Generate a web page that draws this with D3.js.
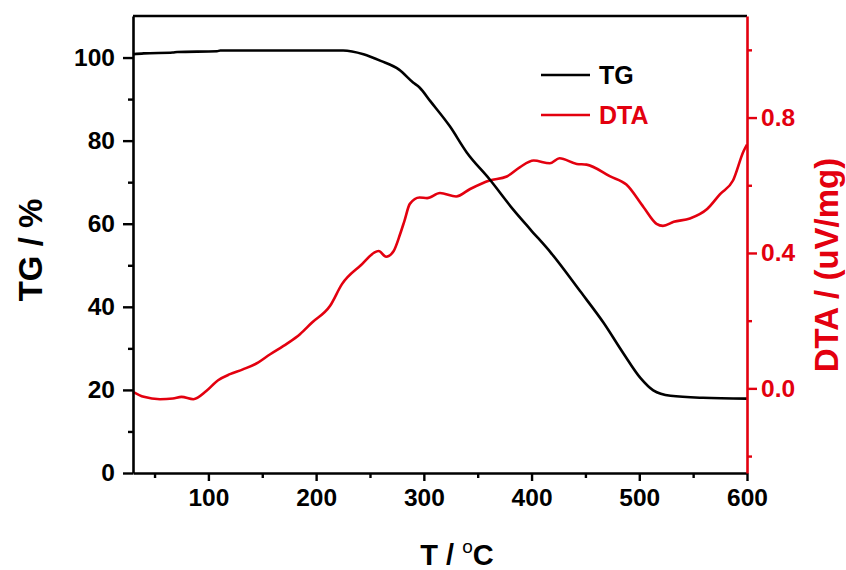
<!DOCTYPE html>
<html>
<head>
<meta charset="utf-8">
<script src="https://cdn.jsdelivr.net/npm/d3@7"></script>
<style>
  body { margin: 0; background: #fff; }
  text { font-family: "Liberation Sans", Arial, sans-serif; font-weight: bold; }
</style>
</head>
<body>
<script>
const width = 846;
const height = 570;
const margin = { top: 16, right: 99, bottom: 97, left: 133 };
const red = "#e3000f";

// TG curve (T in °C, mass %)
const tgT = [30, 40, 67, 71, 108, 111, 225, 244, 260, 277, 290, 296, 306, 324, 340, 361, 383, 399, 418, 445, 467, 485, 501, 513, 529, 559, 600];
const tgV = [100.8, 101.0, 101.2, 101.35, 101.5, 101.7, 101.7, 100.8, 99.2, 97.1, 94.0, 92.8, 89.5, 83.5, 77.1, 70.7, 63.4, 58.6, 53.0, 43.8, 36.1, 28.9, 22.9, 19.9, 18.6, 18.1, 17.9];

// DTA curve (T in °C, uV/mg)
const dtaT = [30, 40, 55, 67, 75, 86, 98, 109, 120, 132, 146, 157, 173, 185, 196, 213, 224, 241, 258, 265, 272, 278, 282, 287, 296, 303, 315, 330, 343, 361, 377, 389, 402, 417, 426, 442, 451, 473, 488, 504, 516, 522, 532, 547, 563, 575, 587, 597, 600];
const dtaV = [-0.01, -0.025, -0.032, -0.03, -0.025, -0.032, -0.008, 0.024, 0.042, 0.056, 0.076, 0.10, 0.132, 0.16, 0.194, 0.244, 0.308, 0.362, 0.406, 0.389, 0.406, 0.456, 0.495, 0.545, 0.564, 0.562, 0.577, 0.567, 0.589, 0.614, 0.626, 0.653, 0.673, 0.665, 0.68, 0.663, 0.661, 0.626, 0.602, 0.535, 0.486, 0.48, 0.492, 0.502, 0.53, 0.574, 0.614, 0.702, 0.72];

const xTicks = [100, 200, 300, 400, 500, 600];
const xMinor = [50, 150, 250, 350, 450, 550];
const tgTicks = [0, 20, 40, 60, 80, 100];
const tgMinor = [10, 30, 50, 70, 90];
const dtaTicks = [0.0, 0.4, 0.8];
const dtaMinor = [-0.2, 0.2, 0.6, 1.0];

const legendNames = ["TG", "DTA"];

const x = d3.scaleLinear().domain([30, 600]).range([margin.left, width - margin.right]);
const yTG = d3.scaleLinear().domain([0, 110]).range([height - margin.bottom, margin.top]);
const yDTA = d3.scaleLinear().domain([-0.25, 1.1]).range([height - margin.bottom, margin.top]);

const svg = d3.select("body").append("svg").attr("width", width).attr("height", height);

const plotBottom = height - margin.bottom;
const plotRight = width - margin.right;

// curves
const tgData = tgT.map((t, i) => [t, tgV[i]]);
const dtaData = dtaT.map((t, i) => [t, dtaV[i]]);

svg.append("path")
  .datum(dtaData)
  .attr("fill", "none")
  .attr("stroke", red)
  .attr("stroke-width", 2.6)
  .attr("d", d3.line().x(d => x(d[0])).y(d => yDTA(d[1])).curve(d3.curveMonotoneX));

svg.append("path")
  .datum(tgData)
  .attr("fill", "none")
  .attr("stroke", "#000")
  .attr("stroke-width", 2.6)
  .attr("d", d3.line().x(d => x(d[0])).y(d => yTG(d[1])).curve(d3.curveMonotoneX));

// axes
function styleAxis(g, color) {
  g.select(".domain").attr("stroke", color).attr("stroke-width", 2.6);
  g.selectAll(".tick line").attr("stroke", color).attr("stroke-width", 2.4);
  g.selectAll(".tick text").attr("fill", color).style("font-size", "24.5px")
    .style("font-family", "'Liberation Sans', Arial, sans-serif").style("font-weight", "bold");
}

// top border
svg.append("line")
  .attr("x1", margin.left).attr("x2", plotRight)
  .attr("y1", margin.top).attr("y2", margin.top)
  .attr("stroke", "#000").attr("stroke-width", 2.6);

// bottom axis
svg.append("g")
  .attr("transform", `translate(0,${plotBottom})`)
  .call(d3.axisBottom(x).tickValues(xMinor).tickSize(5).tickFormat(""))
  .call(g => styleAxis(g, "#000"))
  .call(g => g.select(".domain").remove());
svg.append("g")
  .attr("transform", `translate(0,${plotBottom})`)
  .call(d3.axisBottom(x).tickValues(xTicks).tickSize(8).tickSizeOuter(0).tickPadding(8).tickFormat(d3.format("d")))
  .call(g => styleAxis(g, "#000"));

// left axis
svg.append("g")
  .attr("transform", `translate(${margin.left},0)`)
  .call(d3.axisLeft(yTG).tickValues(tgMinor).tickSize(5).tickFormat(""))
  .call(g => styleAxis(g, "#000"))
  .call(g => g.select(".domain").remove());
svg.append("g")
  .attr("transform", `translate(${margin.left},0)`)
  .call(d3.axisLeft(yTG).tickValues(tgTicks).tickSize(10).tickSizeOuter(0).tickPadding(8).tickFormat(d3.format("d")))
  .call(g => styleAxis(g, "#000"));

// right axis
svg.append("g")
  .attr("transform", `translate(${plotRight},0)`)
  .call(d3.axisRight(yDTA).tickValues(dtaMinor).tickSize(5).tickFormat(""))
  .call(g => styleAxis(g, red))
  .call(g => g.select(".domain").remove());
svg.append("g")
  .attr("transform", `translate(${plotRight},0)`)
  .call(d3.axisRight(yDTA).tickValues(dtaTicks).tickSize(10).tickSizeOuter(0).tickPadding(4).tickFormat(d3.format(".1f")))
  .call(g => styleAxis(g, red));

// axis titles
svg.append("text")
  .attr("transform", `translate(42,250) rotate(-90)`)
  .attr("text-anchor", "middle")
  .style("font-size", "33px")
  .text("TG / %");

svg.append("text")
  .attr("transform", `translate(838,265) rotate(-90)`)
  .attr("text-anchor", "middle")
  .attr("fill", red)
  .style("font-size", "33px")
  .text("DTA / (uV/mg)");

const xTitle = svg.append("text")
  .attr("x", 457)
  .attr("y", 565)
  .attr("text-anchor", "middle")
  .style("font-size", "29px");
xTitle.append("tspan").text("T / ");
xTitle.append("tspan").attr("dy", -12).style("font-size", "19px").style("font-weight", "normal").text("o");
xTitle.append("tspan").attr("dy", 12).text("C");

// legend
const legend = svg.append("g");
legendNames.forEach((name, i) => {
  const c = i === 0 ? "#000" : red;
  const ly = 75 + i * 40;
  legend.append("line")
    .attr("x1", 541).attr("x2", 590).attr("y1", ly).attr("y2", ly)
    .attr("stroke", c).attr("stroke-width", 2.6);
  legend.append("text")
    .attr("x", 599).attr("y", ly + 9)
    .attr("fill", c)
    .style("font-size", "25px")
    .text(name);
});
</script>
</body>
</html>
